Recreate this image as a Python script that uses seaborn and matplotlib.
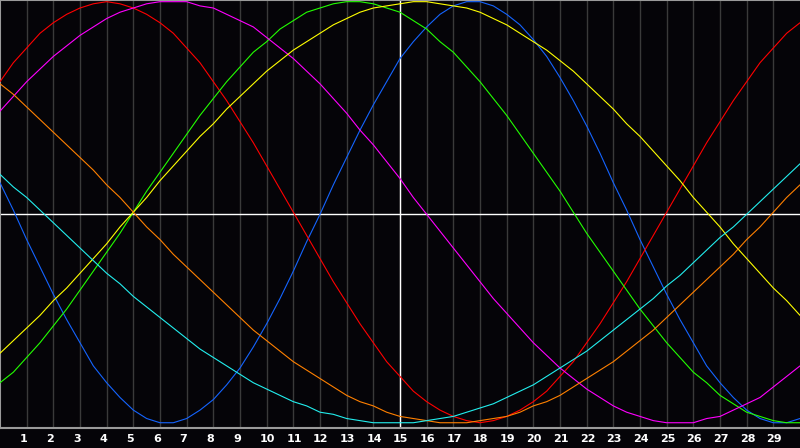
import pandas as pd
import matplotlib
matplotlib.use("Agg")
import matplotlib.pyplot as plt
import matplotlib.transforms as mtransforms
import seaborn as sns

# biorhythm readings in percent, every half day from day 0 to day 30
days = [i / 2 for i in range(61)]
day_labels = list(range(1, 30))

physical = [14, 1, -13, -26, -39, -51, -62, -73, -81, -88, -94, -98, -100, -100, -98, -94, -89, -82, -74, -64, -53, -41, -28, -14, -1, 13, 26, 39, 51, 62, 73, 81, 88, 94, 98, 100, 100, 98, 94, 89, 82, 74, 64, 53, 41, 28, 14, 1, -13, -26, -39, -51, -62, -73, -81, -88, -94, -98, -100, -100, -98]
emotional = [62, 71, 78, 85, 90, 94, 97, 99, 100, 99, 97, 94, 90, 85, 78, 71, 62, 53, 43, 33, 22, 11, 0, -11, -22, -33, -43, -53, -62, -71, -78, -85, -90, -94, -97, -99, -100, -99, -97, -94, -90, -85, -78, -71, -62, -53, -43, -33, -22, -11, 0, 11, 22, 33, 43, 53, 62, 71, 78, 85, 90]
intellectual = [-81, -76, -69, -62, -54, -46, -37, -28, -19, -10, 0, 10, 19, 28, 37, 46, 54, 62, 69, 76, 81, 87, 91, 95, 97, 99, 100, 100, 99, 97, 95, 91, 87, 81, 76, 69, 62, 54, 46, 37, 28, 19, 10, 0, -10, -19, -28, -37, -46, -54, -62, -69, -76, -81, -87, -91, -95, -97, -99, -100, -100]
intuitive = [48, 55, 62, 68, 74, 79, 84, 88, 92, 95, 97, 99, 100, 100, 100, 98, 97, 94, 91, 88, 83, 78, 73, 67, 61, 54, 47, 39, 32, 24, 16, 7, -1, -9, -17, -25, -33, -41, -48, -55, -62, -68, -74, -79, -84, -88, -92, -95, -97, -99, -100, -100, -100, -98, -97, -94, -91, -88, -83, -78, -73]
aesthetic = [-67, -61, -55, -49, -42, -36, -29, -22, -15, -7, 0, 7, 15, 22, 29, 36, 42, 49, 55, 61, 67, 72, 77, 81, 85, 89, 92, 95, 97, 98, 99, 100, 100, 99, 98, 97, 95, 92, 89, 85, 81, 77, 72, 67, 61, 55, 49, 42, 36, 29, 22, 15, 7, 0, -7, -15, -22, -29, -36, -42, -49]
awareness = [61, 56, 50, 44, 38, 32, 26, 20, 13, 7, 0, -7, -13, -20, -26, -32, -38, -44, -50, -56, -61, -66, -71, -75, -79, -83, -87, -90, -92, -95, -97, -98, -99, -100, -100, -100, -99, -98, -97, -95, -92, -90, -87, -83, -79, -75, -71, -66, -61, -56, -50, -44, -38, -32, -26, -20, -13, -7, 0, 7, 13]
spiritual = [18, 12, 7, 1, -5, -11, -17, -23, -29, -34, -40, -45, -50, -55, -60, -65, -69, -73, -77, -81, -84, -87, -90, -92, -95, -96, -98, -99, -100, -100, -100, -100, -99, -98, -97, -95, -93, -91, -88, -85, -82, -78, -74, -70, -66, -61, -56, -51, -46, -41, -35, -30, -24, -18, -12, -7, -1, 5, 11, 17, 23]

series = {
    "physical": physical, "emotional": emotional, "intellectual": intellectual,
    "intuitive": intuitive, "aesthetic": aesthetic, "awareness": awareness,
    "spiritual": spiritual,
}
colors = {
    "physical": "#1464ff", "emotional": "#ff0000", "intellectual": "#22ff00",
    "intuitive": "#ff00ff", "aesthetic": "#ffff00", "awareness": "#ff8000",
    "spiritual": "#22eeee",
}

df = pd.concat([pd.DataFrame({"day": days, "value": v, "cycle": k})
                for k, v in series.items()], ignore_index=True)

BG = "#050408"
sns.set_theme(style="dark")
plt.rcParams["font.family"] = ["DejaVu Sans"]

fig = plt.figure(figsize=(8, 4.48), dpi=100, facecolor=BG)
ax = fig.add_axes([0, 20 / 448, 1, 428 / 448])
ax.set_facecolor(BG)

sns.lineplot(data=df, x="day", y="value", hue="cycle", palette=colors,
             estimator=None, sort=False, legend=False, lw=0.8, ax=ax, zorder=3)

ax.set_xlim(0, 30)
ax.set_ylim(-102.5, 100.8)
ax.set_xticks(day_labels)
ax.set_xticklabels([])
ax.set_yticks([])
ax.tick_params(length=0)
ax.grid(axis="x", color="#3a3a3a", lw=1)
ax.grid(axis="y", visible=False)
ax.set_xlabel("")
ax.set_ylabel("")

# zero line and today marker
ax.axhline(-1, color="white", lw=1, zorder=2)
ax.axvline(15, color="white", lw=1, zorder=2)

for side in ["left", "top", "bottom"]:
    ax.spines[side].set_visible(True)
    ax.spines[side].set_color("#9a9a9a")
    ax.spines[side].set_linewidth(1.5)
ax.spines["right"].set_visible(False)

trans = mtransforms.blended_transform_factory(ax.transData, ax.transAxes)
for k in day_labels:
    ax.text(k - 0.26, -0.026, str(k), transform=trans, ha="left", va="center",
            color="white", fontsize=8, fontweight="bold")

fig.savefig("out.png", facecolor=BG)
